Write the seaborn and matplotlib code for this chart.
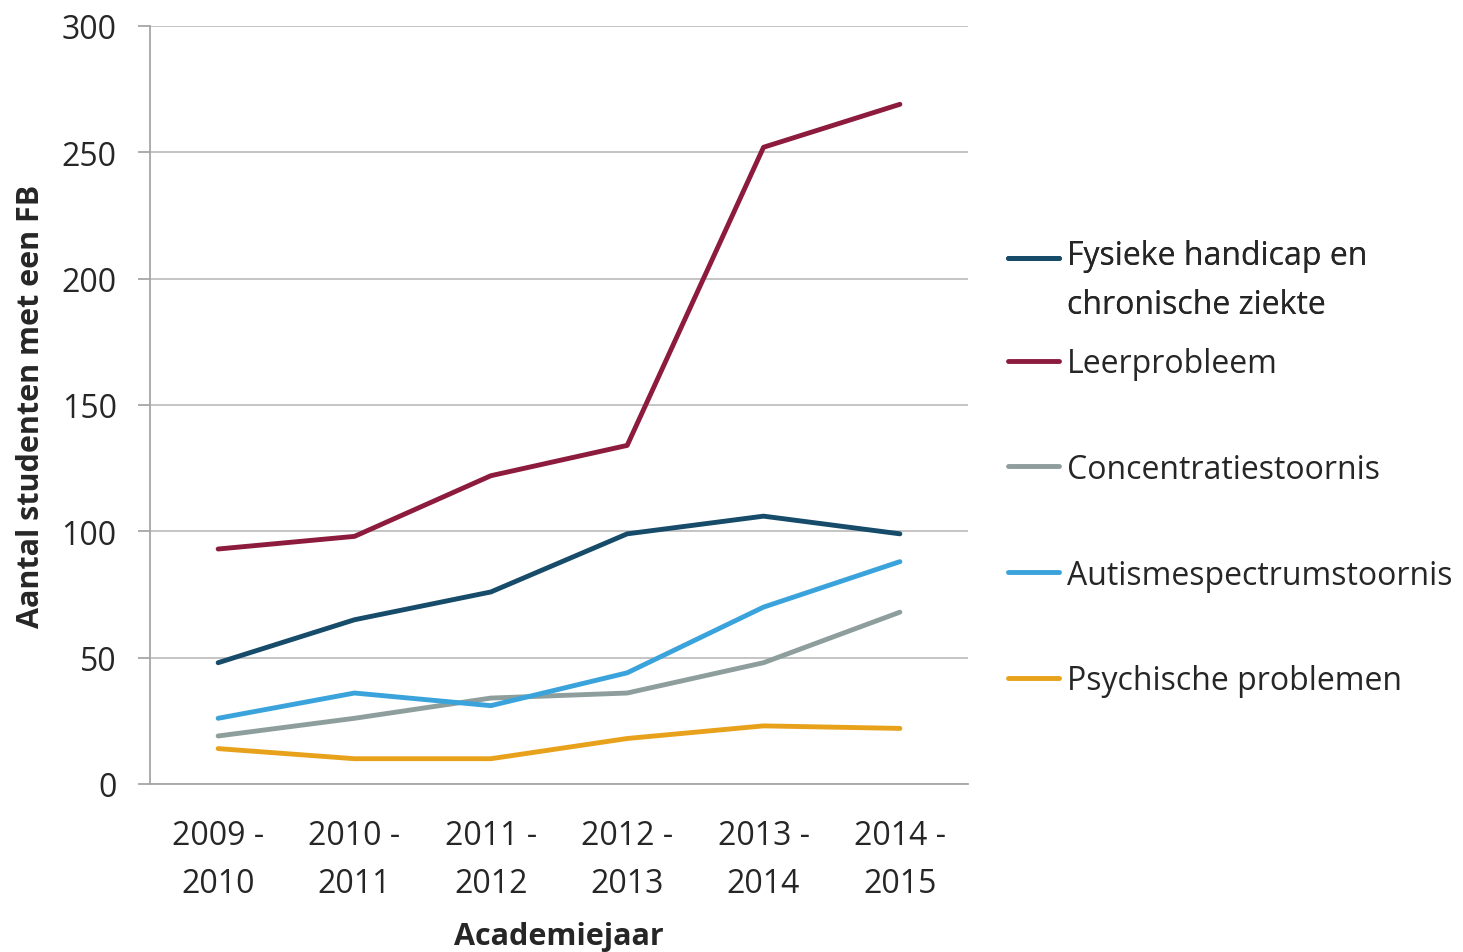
import pandas as pd
import matplotlib.pyplot as plt
import seaborn as sns
from matplotlib.lines import Line2D

# Academic years (x categories)
years = ["2009 -\n2010", "2010 -\n2011", "2011 -\n2012", "2012 -\n2013", "2013 -\n2014", "2014 -\n2015"]

# Series values
fysiek = [48, 65, 76, 99, 106, 99]
leerprobleem = [93, 98, 122, 134, 252, 269]
concentratie = [19, 26, 34, 36, 48, 68]
autisme = [26, 36, 31, 44, 70, 88]
psychisch = [14, 10, 10, 18, 23, 22]

series_names = [
    "Fysieke handicap en\nchronische ziekte",
    "Leerprobleem",
    "Concentratiestoornis",
    "Autismespectrumstoornis",
    "Psychische problemen",
]
series_values = [fysiek, leerprobleem, concentratie, autisme, psychisch]
colors = ["#174B6A", "#8C1B3D", "#8E9E9D", "#3AA3DB", "#E8A11A"]

rows = []
for name, vals in zip(series_names, series_values):
    for i, v in enumerate(vals):
        rows.append({"pos": i, "jaar": years[i], "reeks": name, "aantal": v})
df = pd.DataFrame(rows)

sns.set_style("white")
plt.rcParams["font.family"] = ["Open Sans", "DejaVu Sans"]

fig = plt.figure(figsize=(14.63, 9.53), dpi=100)
ax = fig.add_axes([0.1025, 0.1763, 0.5592, 0.7954])

palette = dict(zip(series_names, colors))
sns.lineplot(data=df, x="pos", y="aantal", hue="reeks", hue_order=series_names,
             palette=palette, linewidth=3.5, ax=ax, legend=False)

# Axes styling (Excel-like)
ax.set_xlim(-0.5, len(years) - 0.5)
ax.set_ylim(0, 300)
ax.set_yticks(range(0, 301, 50))
ax.yaxis.grid(True, color="#BFBFBF", linewidth=1.3)
ax.set_axisbelow(True)
for s in ["top", "right"]:
    ax.spines[s].set_visible(False)
for s in ["left", "bottom"]:
    ax.spines[s].set_color("#A6A6A6")
    ax.spines[s].set_linewidth(1.3)

ax.set_xticks(range(len(years)))
ax.set_xticklabels(years, fontsize=23)
for t in ax.get_xticklabels():
    t.set_linespacing(1.62)
ax.set_xticks([i - 0.5 for i in range(len(years) + 1)], minor=True)
ax.tick_params(axis="x", which="major", length=0, pad=25)
ax.tick_params(axis="x", which="minor", length=10, width=1.3, color="#A6A6A6")
ax.tick_params(axis="y", which="major", length=9, width=1.3, color="#A6A6A6",
               labelsize=23, pad=15, left=True)

ax.set_xlabel("Academiejaar", fontsize=22, fontweight="bold", labelpad=15)
ax.set_ylabel("Aantal studenten met een FB", fontsize=22, fontweight="bold", labelpad=11)

handles = [Line2D([], [], color=c, linewidth=3.5) for c in colors]
leg_kw = dict(loc="upper left", frameon=False, fontsize=23, borderpad=0,
              borderaxespad=0, handlelength=1.6, handletextpad=0.25)

# first (two-line) entry: handle aligned with the first text line
leg1 = fig.legend(handles[:1], series_names[:1], bbox_to_anchor=(0.689, 0.748), **leg_kw)
leg1.get_texts()[0].set_linespacing(1.62)
h = leg1.legend_handles[0]
h.set_ydata([y + 16.5 for y in h.get_ydata()])

leg2 = fig.legend(handles[1:], series_names[1:], bbox_to_anchor=(0.689, 0.635),
                  labelspacing=2.28, **leg_kw)
fig.add_artist(leg1)

fig.savefig("out.png", dpi=100)
